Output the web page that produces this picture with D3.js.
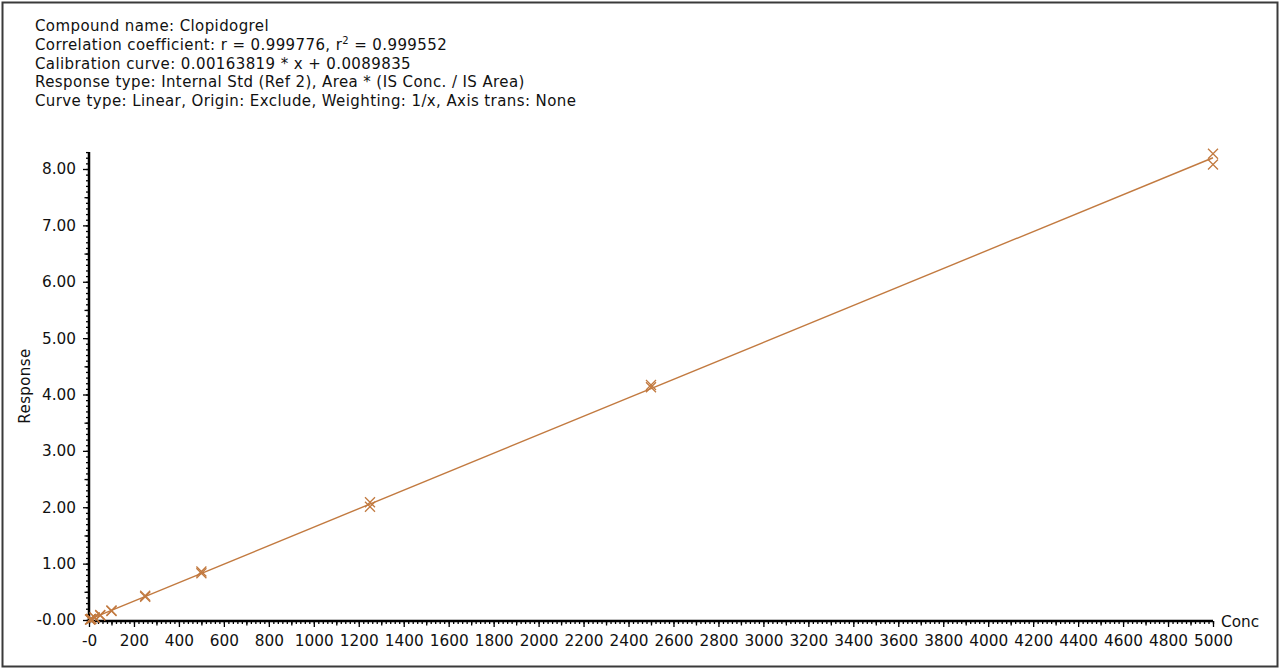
<!DOCTYPE html>
<html>
<head>
<meta charset="utf-8">
<script src="https://cdn.jsdelivr.net/npm/d3@7"></script>
<style>
  body { margin: 0; background: #fff; }
  svg { display: block; font-family: "DejaVu Sans", Verdana, sans-serif; }
</style>
</head>
<body>
<svg id="chart" width="1280" height="669"></svg>
<script>
const width = 1280;
const height = 669;

// calibration data (duplicate injections at each level)
const concentrations = [5, 10, 25, 50, 100, 250, 500, 1250, 2500, 5000];
const responseA = [0.010, 0.018, 0.045, 0.09, 0.17, 0.43, 0.86, 2.09, 4.17, 8.27];
const responseB = [0.009, 0.017, 0.042, 0.08, 0.16, 0.41, 0.83, 2.01, 4.13, 8.08];
const slope = 0.00163819;
const intercept = 0.0089835;

const xTicks = d3.range(0, 5001, 200);
const yTicks = d3.range(0, 9, 1);

const headerLines = [
  "Compound name: Clopidogrel",
  null, // correlation line built with superscript
  "Calibration curve: 0.00163819 * x + 0.0089835",
  "Response type: Internal Std (Ref 2), Area * (IS Conc. / IS Area)",
  "Curve type: Linear, Origin: Exclude, Weighting: 1/x, Axis trans: None"
];

const svg = d3.select("#chart");
const color = "#c27a40";

// frame
svg.append("rect")
  .attr("x", 2.5).attr("y", 2.5)
  .attr("width", width - 5).attr("height", height - 5)
  .attr("fill", "#fff").attr("stroke", "#3a3a3a").attr("stroke-width", 2);

// header text
const header = svg.append("g").attr("font-size", 15).attr("letter-spacing", 0.4).attr("fill", "#111");
headerLines.forEach((t, i) => {
  const y = 31 + i * 18.8;
  const txt = header.append("text").attr("x", 35).attr("y", y);
  if (t !== null) {
    txt.text(t);
  } else {
    txt.append("tspan").text("Correlation coefficient: r = 0.999776, r");
    txt.append("tspan").attr("font-size", 10).attr("dy", -6).text("2");
    txt.append("tspan").attr("dy", 6).text(" = 0.999552");
  }
});

const x = d3.scaleLinear().domain([0, 5000]).range([89, 1213]);
const y = d3.scaleLinear().domain([0, 8]).range([620, 169]);

// y axis
const yAxisG = svg.append("g").attr("transform", "translate(89,0)");
yAxisG.call(d3.axisLeft(y).tickValues(d3.range(0, 8.31, 0.1)).tickSize(3).tickFormat(""));
yAxisG.append("g").call(d3.axisLeft(y).tickValues(d3.range(0.5, 8.31, 1)).tickSize(4.5).tickFormat(""));
yAxisG.append("g").call(d3.axisLeft(y).tickValues(yTicks).tickSize(6).tickPadding(7)
  .tickFormat(d => d === 0 ? "-0.00" : d3.format(".2f")(d)));
yAxisG.selectAll(".domain").remove();
yAxisG.append("line").attr("x1", 0).attr("x2", 0)
  .attr("y1", y(8.3)).attr("y2", y(0) + 1).attr("stroke", "#000").attr("stroke-width", 2.5);

// x axis
const xAxisG = svg.append("g").attr("transform", "translate(0,621)");
xAxisG.call(d3.axisBottom(x).tickValues(d3.range(0, 5001, 20)).tickSize(3).tickFormat(""));
xAxisG.append("g").call(d3.axisBottom(x).tickValues(d3.range(100, 5001, 200)).tickSize(4.5).tickFormat(""));
xAxisG.append("g").call(d3.axisBottom(x).tickValues(xTicks).tickSize(6).tickPadding(8)
  .tickFormat(d => d === 0 ? "-0" : d));
xAxisG.selectAll(".domain").remove();
xAxisG.append("line").attr("x1", x(0) - 2).attr("x2", x(5000))
  .attr("y1", 0).attr("y2", 0).attr("stroke", "#000").attr("stroke-width", 2.5);

svg.selectAll(".tick line").attr("stroke", "#000").attr("stroke-width", 1.3);
svg.selectAll(".tick text").attr("font-family", "DejaVu Sans, Verdana, sans-serif")
  .attr("font-size", 15.3).attr("fill", "#111");

// axis titles
svg.append("text").attr("transform", "translate(30,386) rotate(-90)")
  .attr("text-anchor", "middle").attr("font-size", 15).attr("letter-spacing", 0.4)
  .attr("fill", "#111").text("Response");
svg.append("text").attr("x", 1221).attr("y", 627)
  .attr("font-size", 15.3).attr("fill", "#111").text("Conc");

// fitted line
const xMin = d3.min(concentrations);
const xMax = d3.max(concentrations);
svg.append("line")
  .attr("x1", x(xMin)).attr("y1", y(slope * xMin + intercept))
  .attr("x2", x(xMax)).attr("y2", y(slope * xMax + intercept))
  .attr("stroke", color).attr("stroke-width", 1.4);

// markers
const points = concentrations.flatMap((c, i) => [
  { c, r: responseA[i] },
  { c, r: responseB[i] }
]);
const s = 5;
svg.append("g").selectAll("path")
  .data(points).enter()
  .append("path")
  .attr("d", d => {
    const px = x(d.c), py = y(d.r);
    return `M${px - s},${py - s}L${px + s},${py + s}M${px - s},${py + s}L${px + s},${py - s}`;
  })
  .attr("stroke", color).attr("stroke-width", 1.3).attr("fill", "none");
</script>
</body>
</html>
